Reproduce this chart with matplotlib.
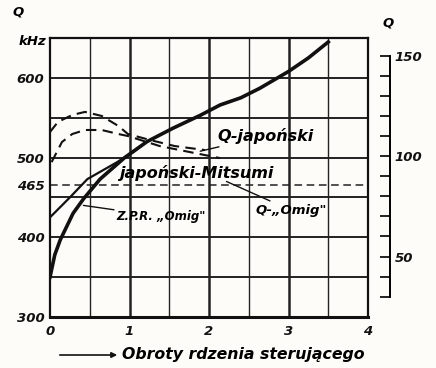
import numpy as np
import matplotlib
matplotlib.use('Agg')
import matplotlib.pyplot as plt

# ── data ──
# Z.P.R. "Omig" frequency curve (kHz), thick solid
zpr_x = [0.0, 0.06, 0.13, 0.29, 0.42, 0.63, 0.94, 1.22, 1.55, 1.89, 2.14, 2.4, 2.64, 3.0, 3.25, 3.5]
zpr_f = [350, 378, 397, 430, 448, 473, 500, 520, 537, 553, 566, 575, 587, 608, 625, 645]

# japoński Mitsumi frequency curve (kHz), thin solid
mit_x = [0.0, 0.25, 0.47, 0.84, 1.05, 1.22]
mit_f = [425, 450, 473, 494, 507, 520]

# Q curves (right axis)
qjap_x = [0.0, 0.1, 0.28, 0.44, 0.65, 0.86, 0.98, 1.26, 1.57, 1.95]
qjap_q = [112, 117, 120.5, 122, 120, 115, 111, 108, 105, 103]

qomig_x = [0.02, 0.15, 0.28, 0.44, 0.65, 0.86, 0.98, 1.38, 1.76, 2.14]
qomig_q = [97, 107, 111, 113, 113, 111, 110, 105, 102, 99]

f_ref = 465  # dashed IF line

x_ticks = [0, 1, 2, 3, 4]
x_grid = [0.5, 1, 1.5, 2, 2.5, 3, 3.5]
f_grid = [350, 400, 450, 500, 550, 600]
f_ticks = [300, 400, 465, 500, 600]
q_ticks = [30, 40, 50, 60, 70, 80, 90, 100, 110, 120, 130, 140, 150]
q_labels = ['', '', '50', '', '', '', '', '100', '', '', '', '', '150']

plt.rcParams['font.family'] = ['DejaVu Sans']
tfont = dict(style='italic', weight='bold', size=9.5)

fig = plt.figure(figsize=(4.36, 3.68), dpi=100)
fig.patch.set_facecolor('#fdfcf8')
ax = fig.add_axes([50/436, 51/368, 318/436, 279/368])
ax.set_facecolor('#fdfcf8')

ax.set_xlim(0, 4)
ax.set_ylim(300, 650)

for gx in x_grid:
    ax.axvline(gx, color='#222', lw=1.8 if gx % 1 == 0 else 1.0, zorder=1)
for gy in f_grid:
    ax.axhline(gy, color='#222', lw=1.4, zorder=1)
ax.axhline(f_ref, color='#222', lw=1.1, ls=(0, (5, 3)), zorder=2)

ax.plot(mit_x, mit_f, color='#111', lw=1.6, zorder=3)
ax.plot(zpr_x, zpr_f, color='#111', lw=2.6, zorder=3)

for s in ax.spines.values():
    s.set_linewidth(1.6)
    s.set_color('#111')
ax.spines['bottom'].set_linewidth(2.2)

ax.set_xticks(x_ticks)
ax.set_xticklabels([str(v) for v in x_ticks], **tfont)
ax.set_yticks(f_ticks)
ax.set_yticklabels([str(v) for v in f_ticks], **tfont)
ax.tick_params(axis='both', length=0, pad=4, colors='#111')
ax.tick_params(axis='x', pad=6)
ax.text(-0.04, 645, 'kHz', ha='right', va='center', **tfont)
ax.text(-0.47, 682, 'Q', ha='left', va='center', **tfont, clip_on=False)

# right Q axis
axq = ax.twinx()
axq.set_ylim(19.9, 158.8)
axq.plot(qjap_x, qjap_q, color='#111', lw=1.5, ls=(0, (5, 3)), zorder=3)
axq.plot(qomig_x, qomig_q, color='#111', lw=1.5, ls=(0, (5, 3)), zorder=3)
for k in ['top', 'left', 'bottom']:
    axq.spines[k].set_visible(False)
axq.spines['right'].set_position(('outward', 16))
axq.spines['right'].set_bounds(30, 150)
axq.spines['right'].set_linewidth(1.4)
axq.set_yticks(q_ticks)
axq.set_yticklabels(q_labels, **tfont)
axq.tick_params(axis='y', direction='in', length=7, width=1.3, pad=3, colors='#111')
axq.text(4.25, 163, 'Q', ha='center', va='bottom', **tfont, clip_on=False)

# curve labels with pointer lines
big = dict(style='italic', weight='bold', size=11.5)
small = dict(style='italic', weight='bold', size=8.5)
line = dict(arrowstyle='-', color='#111', lw=1.0, shrinkA=0, shrinkB=0)
ax.annotate('Q-japoński', xy=(1.89, 508), xytext=(2.1, 527), ha='left', va='center',
            arrowprops=line, **big)
ax.text(0.87, 481, 'japoński-Mitsumi', ha='left', va='center', **big)
ax.annotate('Z.P.R. „Omig"', xy=(0.42, 440), xytext=(0.84, 426), ha='left', va='center',
            arrowprops=line, **small)
ax.annotate('Q-„Omig"', xy=(2.22, 470), xytext=(2.58, 434), ha='left', va='center',
            arrowprops=line, **tfont)

# x axis caption with arrow
fig.text(122/436, 1 - 355/368, 'Obroty rdzenia sterującego', ha='left', va='center',
         style='italic', weight='bold', size=11.3)
fig.add_artist(matplotlib.patches.FancyArrowPatch((57/436, 1 - 355/368), (120/436, 1 - 355/368),
               transform=fig.transFigure, arrowstyle='-|>', mutation_scale=8, lw=1.2, color='#111'))

fig.savefig('out.png', dpi=100, facecolor=fig.get_facecolor())
